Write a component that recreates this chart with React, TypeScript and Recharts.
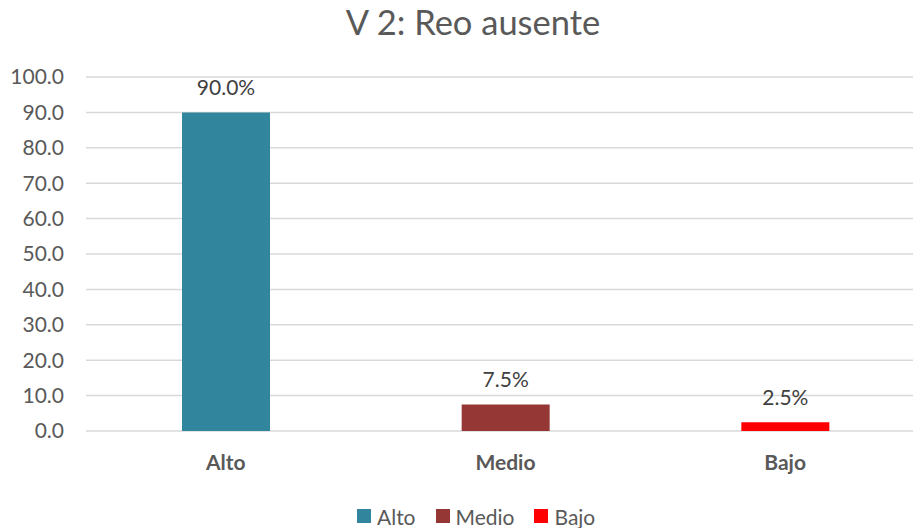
import React from "react";
import { BarChart, Bar, XAxis, YAxis, CartesianGrid, Cell, LabelList } from "recharts";

const categories = ["Alto", "Medio", "Bajo"];
const values = [90.0, 7.5, 2.5];
const colors = ["#31859C", "#953735", "#FF0000"];
const yTicks = [0, 10, 20, 30, 40, 50, 60, 70, 80, 90, 100];
const title = "V 2: Reo ausente";

const data = categories.map((c, i) => ({ name: c, value: values[i] }));

const FONT = "Lato, 'Open Sans', sans-serif";

export default function App() {
  return (
    <div style={{ position: "absolute", left: 0, top: 0, width: 913, height: 528, overflow: "hidden", background: "#fff", fontFamily: FONT }}>
      <div style={{ position: "absolute", left: 0, top: 1, width: 946, textAlign: "center", fontSize: 34.5, color: "#595959", lineHeight: "42px" }}>
        {title}
      </div>
      <BarChart width={925} height={528} data={data} margin={{ top: 77, right: 0, left: 0, bottom: 0 }}>
        <CartesianGrid vertical={false} stroke="#D9D9D9" strokeWidth={1.5} />
        <XAxis
          dataKey="name"
          axisLine={false}
          tickLine={false}
          height={97}
          tickMargin={18}
          tick={{ fill: "#595959", fontSize: 21, fontWeight: 700, fontFamily: FONT }}
        />
        <YAxis
          domain={[0, 100]}
          ticks={yTicks}
          width={86}
          axisLine={false}
          tickLine={false}
          tickMargin={16}
          interval={0}
          tickFormatter={(v: number) => v.toFixed(1)}
          tick={{ fill: "#595959", fontSize: 21, fontFamily: FONT }}
        />
        <Bar dataKey="value" barSize={88} isAnimationActive={false}>
          {data.map((d, i) => (
            <Cell key={d.name} fill={colors[i]} />
          ))}
          <LabelList
            dataKey="value"
            position="top"
            offset={17}
            formatter={(v: number) => v.toFixed(1) + "%"}
            style={{ fill: "#404040", fontSize: 21, fontFamily: FONT }}
          />
        </Bar>
      </BarChart>
      <div style={{ position: "absolute", left: 357, top: 503, height: 26, display: "flex", alignItems: "center", fontSize: 21, color: "#595959" }}>
        {categories.map((c, i) => (
          <div key={c} style={{ display: "flex", alignItems: "center", marginRight: i < categories.length - 1 ? 20 : 0 }}>
            <span style={{ display: "inline-block", width: 14, height: 14, background: colors[i], marginRight: 6 }} />
            <span>{c}</span>
          </div>
        ))}
      </div>
    </div>
  );
}
